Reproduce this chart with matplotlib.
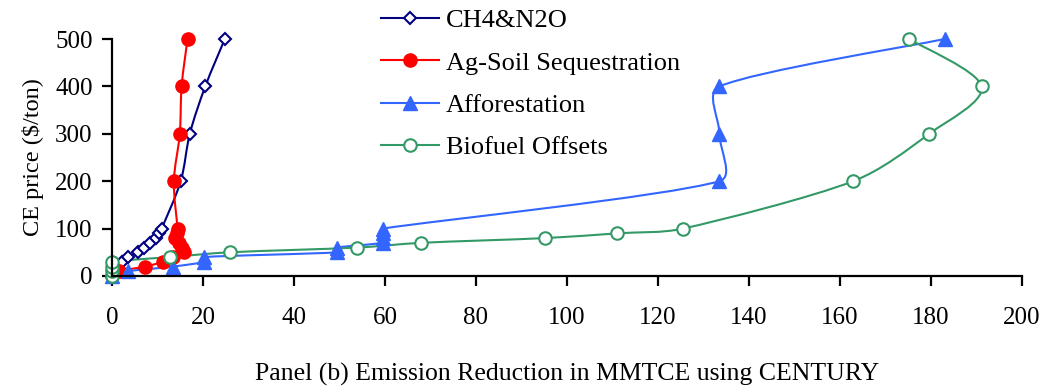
import numpy as np
import matplotlib
matplotlib.use("Agg")
import matplotlib.pyplot as plt
from matplotlib.path import Path
from matplotlib.patches import PathPatch
from matplotlib.lines import Line2D

plt.rcParams.update({
    "font.family": "serif",
    "font.serif": ["Liberation Serif", "DejaVu Serif"],
    "font.size": 18,
    "axes.linewidth": 1.6,
})

#%% Data: CE price levels and emission reduction (MMTCE) per strategy
price = [0, 10, 20, 30, 40, 50, 60, 70, 80, 90, 100, 200, 300, 400, 500]

ch4_n2o = [0, 0.4, 1.1, 2.3, 3.5, 5.8, 7.1, 8.3, 9.7, 10.3, 10.9, 15.1, 17.1, 20.5, 24.8]
ag_soil = [0, 1.5, 7.3, 11.3, 13.5, 15.8, 15.3, 14.8, 13.8, 14.2, 14.4, 13.6, 14.9, 15.3, 16.6]
afforest = [0, 3.5, 13.5, 20.3, 20.3, 49.5, 49.5, 59.5, 59.5, 59.5, 59.5, 133.5, 133.5, 133.5, 183.0]
biofuel = [0, 0, 0, 0, 12.7, 25.9, 53.9, 68.0, 95.2, 111.0, 125.5, 162.9, 179.6, 191.1, 175.2]

labels = ["CH4&N2O", "Ag-Soil Sequestration", "Afforestation", "Biofuel Offsets"]
series = [ch4_n2o, ag_soil, afforest, biofuel]

styles = [
    dict(color="#000080", marker="D", ms=6, mfc="white", mew=1.5),
    dict(color="#FF0000", marker="o", ms=9.5, mfc="#FF0000", mew=1),
    dict(color="#3366FF", marker="^", ms=9.5, mfc="#3366FF", mew=1),
    dict(color="#339966", marker="o", ms=9, mfc="white", mew=1.5),
]

XMAX, YMAX = 200, 500


def smooth_path(x, y, sx, sy):
    # Catmull-Rom cubic Bezier through the points, handles capped at a third
    # of the segment length (measured in pixels) to avoid overshoot
    p = np.column_stack([np.asarray(x) * sx, np.asarray(y) * sy]).astype(float)
    n = len(p)
    verts = [p[0]]
    codes = [Path.MOVETO]

    def cap(h, seg):
        lim = np.hypot(*seg) / 3
        ln = np.hypot(*h)
        return h * (lim / ln) if ln > lim else h

    for i in range(n - 1):
        p0 = p[i - 1] if i > 0 else p[i]
        p3 = p[i + 2] if i + 2 < n else p[i + 1]
        seg = p[i + 1] - p[i]
        c1 = p[i] + cap((p[i + 1] - p0) / 6, seg)
        c2 = p[i + 1] - cap((p3 - p[i]) / 6, seg)
        verts += [c1, c2, p[i + 1]]
        codes += [Path.CURVE4] * 3
    verts = np.array(verts) / [sx, sy]
    return Path(verts, codes)


#%% Plot
fig = plt.figure(figsize=(10.49, 3.87), dpi=100)
ax_w, ax_h = 910, 237
ax = fig.add_axes([112 / 1049, 1 - 276 / 387, ax_w / 1049, ax_h / 387])
sx, sy = ax_w / XMAX, ax_h / YMAX

handles = []
for xs, lab, st in zip(series, labels, styles):
    ax.add_patch(PathPatch(smooth_path(xs, price, sx, sy), fill=False,
                           edgecolor=st["color"], lw=1.5, clip_on=False))
    ax.plot(xs, price, ls="none", marker=st["marker"], ms=st["ms"],
            mfc=st["mfc"], mec=st["color"], mew=st["mew"], clip_on=False)
    handles.append(Line2D([], [], color=st["color"], lw=1.5, marker=st["marker"],
                          ms=st["ms"], mfc=st["mfc"], mec=st["color"], mew=st["mew"]))

ax.set_xlim(0, XMAX)
ax.set_ylim(0, YMAX)
ax.set_xticks(np.arange(0, 201, 20))
ax.set_yticks(np.arange(0, 501, 100))
ax.spines["top"].set_visible(False)
ax.spines["right"].set_visible(False)
ax.tick_params(axis="x", direction="out", length=7, width=1.6, pad=15)
ax.tick_params(axis="y", direction="out", length=7, width=1.6, pad=7)

ax.set_ylabel("CE price ($/ton)", fontsize=17.5, labelpad=8)
ax.set_xlabel("Panel (b) Emission Reduction in MMTCE using CENTURY",
              fontsize=18.5, labelpad=25)

fig.legend(handles, labels, loc="upper left", bbox_to_anchor=(381 / 1049, 0.977),
           frameon=False, borderpad=0, borderaxespad=0, handlelength=2.2,
           handletextpad=0.25, labelspacing=0.71, fontsize=19)

fig.savefig("out.png", dpi=100)
